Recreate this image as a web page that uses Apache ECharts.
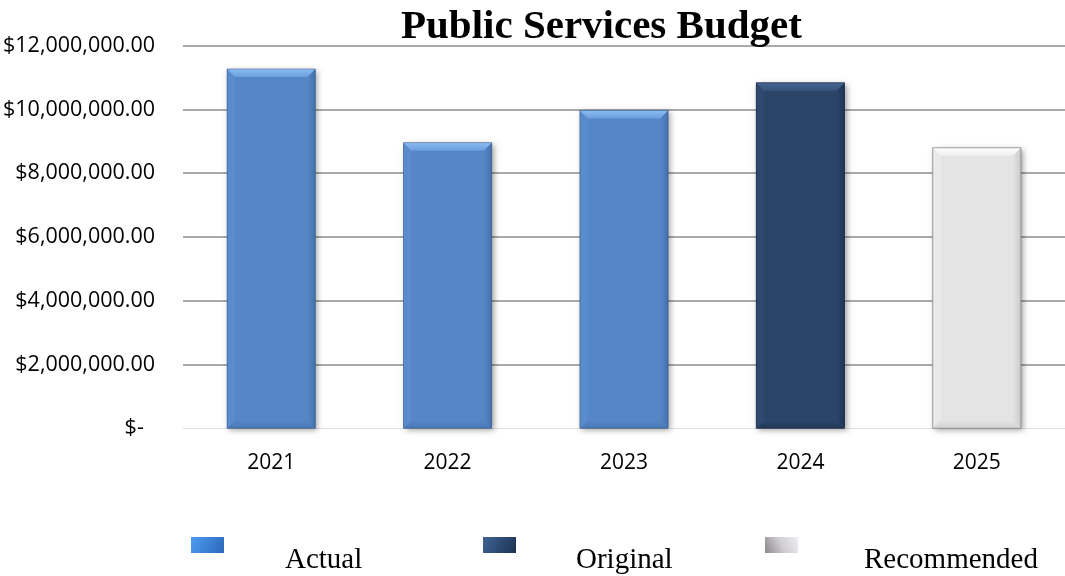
<!DOCTYPE html>
<html>
<head>
<meta charset="utf-8">
<title>Public Services Budget</title>
<script src="https://cdn.jsdelivr.net/npm/echarts@6/dist/echarts.min.js"></script>
<style>
  html, body { margin: 0; padding: 0; background: #ffffff; }
  #chart { width: 1065px; height: 576px; }
</style>
</head>
<body>
<div id="chart"></div>
<script>
// Fiscal years on the category axis
const years = ['2021', '2022', '2023', '2024', '2025'];

// Budget amounts per year, by budget type (null = no figure for that year)
const actual      = [11270000, 8960000, 9970000, null, null];
const original    = [null, null, null, 10840000, null];
const recommended = [null, null, null, null, 8800000];

// Value axis ticks
const yTicks = [0, 2000000, 4000000, 6000000, 8000000, 10000000, 12000000];

// Shading for the bevelled bars: face, top bevel, sides, bottom
const palettes = {
  Actual: {
    face: '#5587c7', topA: '#8cbcf2', topB: '#6b9fde',
    left: '#5a8ccc', right: '#4672ad', bottom: '#4a78b4', edge: 'rgba(40,70,120,0.45)'
  },
  Original: {
    face: '#2b4569', topA: '#46668f', topB: '#35537b',
    left: '#2e4970', right: '#1f3458', bottom: '#22385b', edge: 'rgba(10,20,40,0.5)'
  },
  Recommended: {
    face: '#e4e4e4', topA: '#fdfdfd', topB: '#efefef',
    left: '#e9e9e9', right: '#c9c9c9', bottom: '#d2d2d2', edge: 'rgba(110,110,110,0.6)'
  }
};

// Gradients used for the legend swatches
const legendSwatch = {
  Actual: new echarts.graphic.LinearGradient(0, 0, 1, 1, [
    { offset: 0, color: '#4d9cf2' }, { offset: 1, color: '#2c68ba' }
  ]),
  Original: new echarts.graphic.LinearGradient(0, 0, 1, 1, [
    { offset: 0, color: '#3e6496' }, { offset: 1, color: '#1d3252' }
  ]),
  Recommended: new echarts.graphic.LinearGradient(1, 0, 0, 1, [
    { offset: 0, color: '#efeef1' }, { offset: 0.5, color: '#cfcdd2' }, { offset: 1, color: '#8a888d' }
  ])
};

function toPairs(values) {
  const out = [];
  values.forEach(function (v, i) { if (v != null) out.push([i, v]); });
  return out;
}

// Draws one bevelled bar from its category index and value
function bevelBar(p) {
  return function (params, api) {
    const cat = api.value(0);
    const val = api.value(1);
    const topPt = api.coord([cat, val]);
    const basePt = api.coord([cat, 0]);
    const w = api.size([1, 0])[0] * 0.5;
    const l = topPt[0] - w / 2, r = topPt[0] + w / 2;
    const t = topPt[1], b = basePt[1];
    const e = 8;
    return {
      type: 'group',
      children: [
        {
          type: 'rect',
          shape: { x: l, y: t, width: w, height: b - t },
          style: {
            fill: p.face, shadowBlur: 6, shadowOffsetX: 2, shadowOffsetY: 2,
            shadowColor: 'rgba(0,0,0,0.38)'
          }
        },
        {
          type: 'polygon',
          shape: { points: [[l, t], [l + e, t + e], [l + e, b - e], [l, b]] },
          style: { fill: p.left }
        },
        {
          type: 'polygon',
          shape: { points: [[r, t], [r, b], [r - e, b - e], [r - e, t + e]] },
          style: { fill: new echarts.graphic.LinearGradient(1, 0, 0, 0, [
            { offset: 0, color: p.right }, { offset: 1, color: p.face }
          ]) }
        },
        {
          type: 'polygon',
          shape: { points: [[l, b], [l + e, b - e], [r - e, b - e], [r, b]] },
          style: { fill: new echarts.graphic.LinearGradient(0, 1, 0, 0, [
            { offset: 0, color: p.bottom }, { offset: 1, color: p.face }
          ]) }
        },
        {
          type: 'polygon',
          shape: { points: [[l, t], [r, t], [r - e, t + e], [l + e, t + e]] },
          style: { fill: new echarts.graphic.LinearGradient(0, 0, 0, 1, [
            { offset: 0, color: p.topA }, { offset: 1, color: p.topB }
          ]) }
        },
        {
          type: 'rect',
          shape: { x: l, y: t, width: w, height: b - t },
          style: { fill: 'none', stroke: p.edge, lineWidth: 1 }
        }
      ]
    };
  };
}

// One legend per series so each entry sits in its own slot; the label
// is dropped a little below the swatch with a top padding on the rich token
function legendFor(name, left, gap) {
  return {
    data: [{ name: name, icon: 'rect', itemStyle: { color: legendSwatch[name] } }],
    left: left,
    top: 532,
    itemWidth: 33,
    itemHeight: 16,
    selectedMode: false,
    formatter: '{t|{name}}',
    textStyle: {
      padding: [0, 0, 0, gap],
      rich: {
        t: {
          fontFamily: 'Liberation Serif',
          fontSize: 29,
          color: '#000000',
          padding: [30, 0, 0, 0]
        }
      }
    }
  };
}

const chart = echarts.init(document.getElementById('chart'), null, { renderer: 'canvas' });

chart.setOption({
  animation: false,
  backgroundColor: '#ffffff',
  title: {
    text: 'Public Services Budget',
    left: 396,
    top: 2,
    textStyle: {
      fontFamily: 'Liberation Serif',
      fontWeight: 'bold',
      fontSize: 41,
      color: '#000000'
    }
  },
  legend: [
    legendFor('Actual', 186, 56),
    legendFor('Original', 478, 55),
    legendFor('Recommended', 760, 61)
  ],
  grid: { left: 183, right: 0, top: 45.7, bottom: 147.7 },
  xAxis: {
    type: 'category',
    data: years,
    axisTick: { show: false },
    axisLine: { lineStyle: { color: '#dedede', width: 1 } },
    axisLabel: {
      margin: 24,
      fontFamily: 'Open Sans',
      fontSize: 21,
      color: '#000000'
    }
  },
  yAxis: {
    type: 'value',
    min: yTicks[0],
    max: yTicks[yTicks.length - 1],
    interval: yTicks[1] - yTicks[0],
    axisLine: { show: false },
    axisTick: { show: false },
    splitLine: { showMinLine: false, lineStyle: { color: '#8c8c8c', width: 1.5 } },
    axisLabel: {
      margin: 28,
      fontFamily: 'Open Sans',
      fontSize: 21.5,
      color: '#000000',
      formatter: function (v) {
        if (v === 0) return '$-  ';
        return '$' + v.toLocaleString('en-US', { minimumFractionDigits: 2, maximumFractionDigits: 2 });
      }
    }
  },
  series: [
    { name: 'Actual', values: actual },
    { name: 'Original', values: original },
    { name: 'Recommended', values: recommended }
  ].map(function (s) {
    return {
      name: s.name,
      type: 'custom',
      renderItem: bevelBar(palettes[s.name]),
      itemStyle: { color: palettes[s.name].face },
      encode: { x: 0, y: 1 },
      data: toPairs(s.values)
    };
  })
});
</script>
</body>
</html>
